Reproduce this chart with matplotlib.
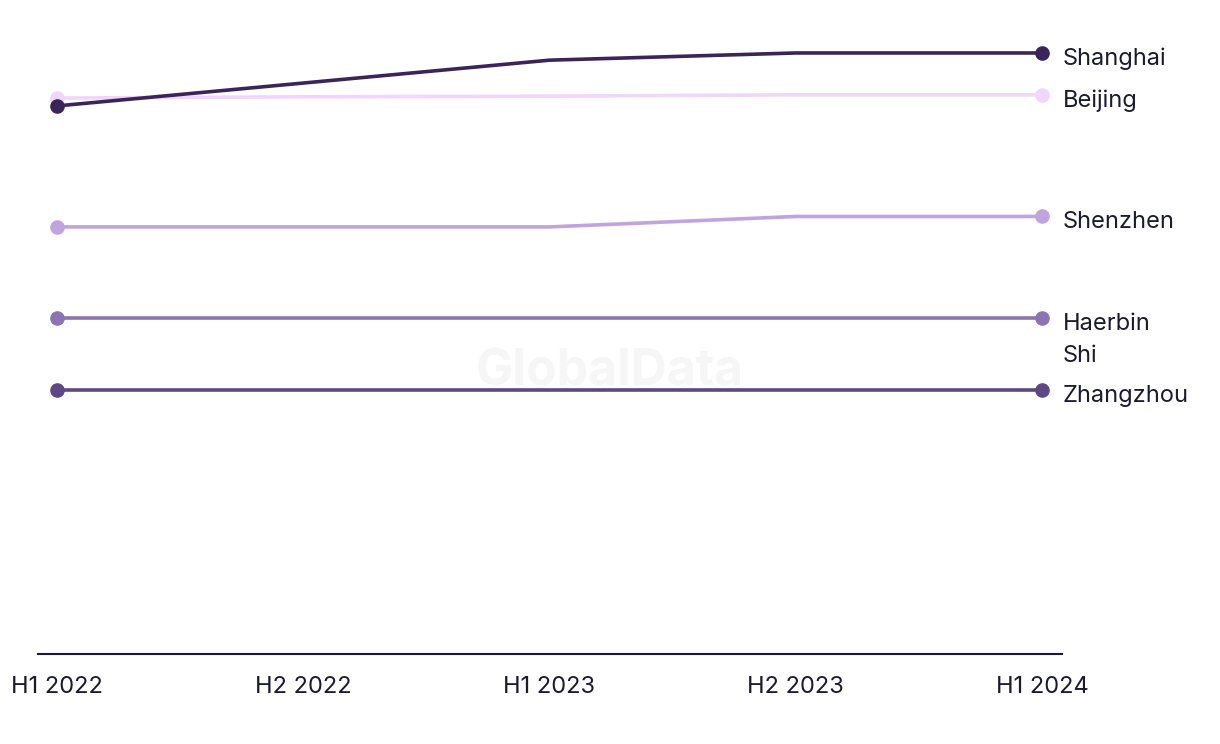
import matplotlib
matplotlib.use("Agg")
import matplotlib.pyplot as plt

# Half-year periods on the x axis
periods = ["H1 2022", "H2 2022", "H1 2023", "H2 2023", "H1 2024"]

# Index values per city
shanghai = [83.8, 87.3, 90.8, 91.9, 91.9]
beijing = [85.0, 85.2, 85.3, 85.5, 85.5]
shenzhen = [65.3, 65.3, 65.3, 66.9, 66.9]
haerbin = [51.4, 51.4, 51.4, 51.4, 51.4]
zhangzhou = [40.4, 40.4, 40.4, 40.4, 40.4]

cities = ["Zhangzhou", "Haerbin\nShi", "Shenzhen", "Beijing", "Shanghai"]
series = [zhangzhou, haerbin, shenzhen, beijing, shanghai]
colors = ["#5e4785", "#8c74b4", "#c0a4e0", "#f0d6fb", "#3b2459"]

plt.rcParams["font.family"] = ["Inter", "DejaVu Sans"]
text_color = "#1c1b2e"

fig = plt.figure(figsize=(12.2, 7.44), dpi=100)
ax = fig.add_axes([0.0311, 0.121, 0.8394, 0.879])

x = list(range(len(periods)))
for name, vals, col in zip(cities, series, colors):
    ax.plot(x, vals, color=col, lw=2.6, marker="o", markersize=9.5,
            markevery=[0, len(x) - 1], solid_capstyle="round", zorder=3)
    # label sits a little below the end point; wrapped labels hang from it
    if "\n" in name:
        ax.text(x[-1] + 0.085, vals[-1] + 0.7, name, fontsize=17, color=text_color,
                va="top", ha="left", linespacing=1.55, clip_on=False)
    else:
        ax.text(x[-1] + 0.085, vals[-1] - 0.9, name, fontsize=17, color=text_color,
                va="center", ha="left", clip_on=False)

fig.text(0.5, 0.5, "GlobalData", fontsize=36, fontweight="bold",
         color="#f6f6f6", ha="center", va="center", zorder=0)

ax.set_xlim(-0.077, 4.081)
ax.set_ylim(0, 100)
ax.set_xticks(x)
ax.set_xticklabels(periods, fontsize=17, color=text_color)
ax.tick_params(axis="x", length=0, pad=16)
ax.set_yticks([])
for s in ["top", "right", "left"]:
    ax.spines[s].set_visible(False)
ax.spines["bottom"].set_color(text_color)
ax.spines["bottom"].set_linewidth(1.5)
ax.patch.set_alpha(0)

fig.savefig("out.png", dpi=100)
